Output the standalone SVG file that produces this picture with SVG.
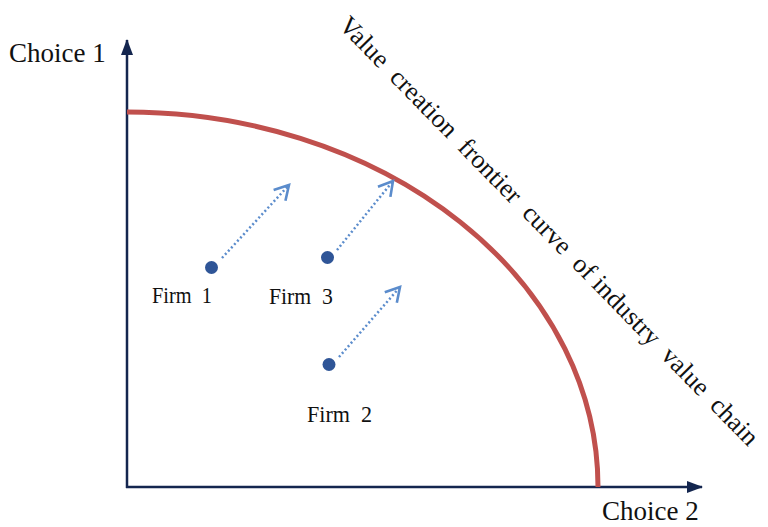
<svg xmlns="http://www.w3.org/2000/svg" width="768" height="527" viewBox="0 0 768 527">
<style>
.lbl{font-family:"Liberation Serif","Times New Roman",serif;fill:#111;white-space:pre}
.axis{stroke:#14264f;stroke-width:2.5;fill:none}
.move{stroke:#5b8ccc;stroke-width:2.5;stroke-dasharray:2 2.5;fill:none}
.dot{fill:#2f5597}
</style>
<defs>
<marker id="ah" markerUnits="userSpaceOnUse" viewBox="0 0 16 12" markerWidth="16" markerHeight="12" refX="15" refY="6" orient="auto">
<path d="M0,0 L16,6 L0,12 Z" fill="#14264f"/>
</marker>
<marker id="oh" markerUnits="userSpaceOnUse" viewBox="0 0 22 22" markerWidth="22" markerHeight="22" refX="18" refY="11" orient="auto">
<path d="M4,3 L18,11 L4,19" fill="none" stroke="#5b8ccc" stroke-width="2.6" stroke-linejoin="miter"/>
</marker>
</defs>
<rect width="768" height="527" fill="#fff"/>
<g id="axes">
<line class="axis" x1="127" y1="488" x2="127" y2="40" marker-end="url(#ah)"/>
<line class="axis" x1="126" y1="487" x2="702" y2="487" marker-end="url(#ah)"/>
<text class="lbl" x="9" y="62" font-size="27">Choice 1</text>
<text class="lbl" x="602" y="520" font-size="27">Choice 2</text>
</g>
<g id="frontier">
<path d="M127,112 A471,375 0 0 1 598,487" fill="none" stroke="#c0504d" stroke-width="5"/>
<text class="lbl" x="543" y="237" font-size="26" text-anchor="middle" textLength="588" lengthAdjust="spacing" transform="rotate(45.7 543 237)">Value  creation  frontier  curve  of industry  value  chain</text>
</g>
<g id="firm1">
<circle class="dot" cx="211.5" cy="267.5" r="6.5"/>
<text class="lbl" x="152" y="303" font-size="24" textLength="60" lengthAdjust="spacingAndGlyphs">Firm  1</text>
</g>
<g id="firm3">
<circle class="dot" cx="327.5" cy="257.5" r="6.5"/>
<text class="lbl" x="269" y="304" font-size="24" textLength="64" lengthAdjust="spacingAndGlyphs">Firm  3</text>
</g>
<g id="firm2">
<circle class="dot" cx="329" cy="364.5" r="6.5"/>
<text class="lbl" x="307" y="422" font-size="24" textLength="65" lengthAdjust="spacingAndGlyphs">Firm  2</text>
</g>
<g id="connectors">
<line class="move" x1="222" y1="258" x2="289" y2="185" marker-end="url(#oh)"/>
<line class="move" x1="337" y1="250" x2="393" y2="181" marker-end="url(#oh)"/>
<line class="move" x1="339" y1="357" x2="400" y2="287" marker-end="url(#oh)"/>
</g>
</svg>
